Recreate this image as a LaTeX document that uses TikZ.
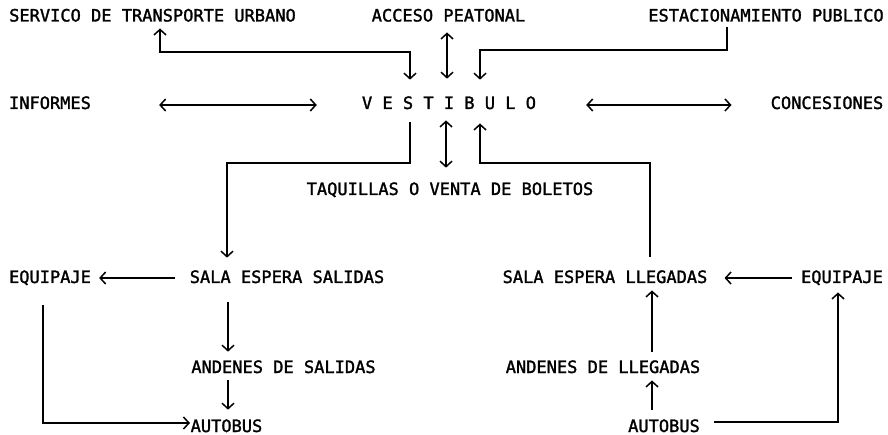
\documentclass[tikz,border=0pt]{standalone}
\usepackage{fontspec}
\newfontfamily\labfont[FakeBold=1.6]{DejaVu Sans Mono}
\usetikzlibrary{arrows.meta}
\begin{document}
\begin{tikzpicture}[x=1pt,y=-1pt,
  lbl/.style={font=\labfont\fontsize{17}{17}\selectfont, inner sep=0pt, anchor=base},
  conn/.style={line width=1.5pt, draw=black, line join=miter},
  hd/.tip={Straight Barb[length=5.5pt,width=12pt,line width=1.5pt]},
  one/.style={conn, -hd},
  two/.style={conn, hd-hd}
]
\useasboundingbox (0,0) rectangle (888,435);

% labels
\node[lbl] (serv)   at (152.5,21.5) {SERVICO DE TRANSPORTE URBANO};
\node[lbl] (acceso) at (448.5,21.5) {ACCESO PEATONAL};
\node[lbl] (estac)  at (766,21.5)   {ESTACIONAMIENTO PUBLICO};
\node[lbl] (inf)    at (50,109)     {INFORMES};
\node[lbl] (vest)   at (449,109)    {V E S T I B U L O};
\node[lbl] (conc)   at (827,109)    {CONCESIONES};
\node[lbl] (taq)    at (450,195)    {TAQUILLAS O VENTA DE BOLETOS};
\node[lbl] (eqL)    at (50,283)     {EQUIPAJE};
\node[lbl] (salaS)  at (287,283)    {SALA ESPERA SALIDAS};
\node[lbl] (salaL)  at (605,283)    {SALA ESPERA LLEGADAS};
\node[lbl] (eqR)    at (842,283)    {EQUIPAJE};
\node[lbl] (andS)   at (283.5,373)  {ANDENES DE SALIDAS};
\node[lbl] (andL)   at (603,373)    {ANDENES DE LLEGADAS};
\node[lbl] (autS)   at (226.5,432)  {AUTOBUS};
\node[lbl] (autR)   at (664,432)    {AUTOBUS};

% top connectors
\draw[two, shorten <=6.5pt, shorten >=16.5pt]
  (serv.south -| 160,0) -- (160,52) -| (vest.north -| 410,0);
\draw[two, shorten <=10.5pt, shorten >=17.5pt]
  (acceso.south -| 447,0) -- (vest.north -| 447,0);
\draw[one, shorten <=5.5pt, shorten >=16.5pt]
  (estac.south -| 727,0) -- (727,50) -| (vest.north -| 480,0);

% side connectors
\draw[two, shorten <=68pt, shorten >=45pt]
  (inf.east |- 0,105) -- (vest.west |- 0,105);
\draw[two, shorten <=50pt, shorten >=39pt]
  (vest.east |- 0,105) -- (conc.west |- 0,105);

% below vestibulo
\draw[one, shorten <=13pt, shorten >=12.5pt]
  (vest.south -| 410,0) -- (410,163) -| (salaS.north -| 227,0);
\draw[two, shorten <=11pt, shorten >=14.5pt]
  (vest.south -| 446,0) -- (taq.north -| 446,0);
\draw[one, shorten <=13.5pt, shorten >=14pt]
  (salaL.north -| 650,0) -- (650,163) -| (vest.south -| 480,0);

% departures
\draw[one, shorten <=15pt, shorten >=8pt]
  (salaS.west |- 0,278) -- (eqL.east |- 0,278);
\draw[one, shorten <=19pt, shorten >=8.5pt]
  (salaS.south -| 228,0) -- (andS.north -| 228,0);
\draw[one, shorten <=7pt, shorten >=9.5pt]
  (andS.south -| 228,0) -- (autS.north -| 228,0);
\draw[one, shorten <=20pt, shorten >=0.5pt]
  (eqL.south -| 43,0) |- (autS.west |- 0,423);

% arrivals
\draw[one, shorten <=9pt, shorten >=17pt]
  (eqR.west |- 0,278) -- (salaL.east |- 0,278);
\draw[one, shorten <=8.5pt, shorten >=7pt]
  (andL.north -| 652,0) -- (salaL.south -| 652,0);
\draw[one, shorten <=9.5pt, shorten >=7pt]
  (autR.north -| 652,0) -- (andL.south -| 652,0);
\draw[one, shorten <=14pt, shorten >=7pt]
  (autR.east |- 0,422) -| (eqR.south -| 838,0);
\end{tikzpicture}
\end{document}
